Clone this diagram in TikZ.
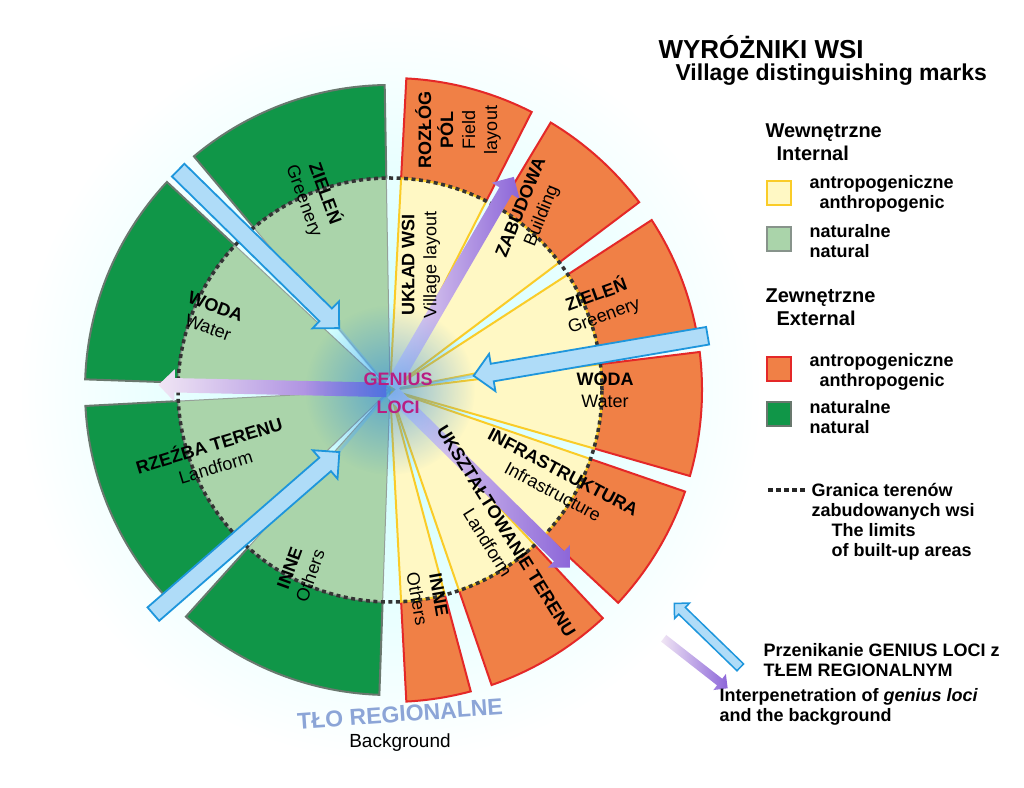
\documentclass[tikz,border=0pt]{standalone}
\usepackage{fontspec}
\setmainfont{Liberation Sans}
\usetikzlibrary{calc,shapes.arrows,fadings}

\definecolor{antout}{RGB}{240,128,70}
\definecolor{antin}{RGB}{255,248,196}
\definecolor{natout}{RGB}{16,150,72}
\definecolor{natin}{RGB}{170,212,170}
\definecolor{redline}{RGB}{228,40,40}
\definecolor{yelline}{RGB}{250,204,40}
\definecolor{grayline}{RGB}{105,120,110}
\definecolor{arrowblue}{RGB}{30,150,220}
\definecolor{arrowfill}{RGB}{175,220,248}
\definecolor{lociviolet}{RGB}{185,30,130}
\definecolor{tlo}{RGB}{140,165,215}

\tikzfading[name=glow, inner color=transparent!45, outer color=transparent!100]

\tikzset{
  ringout/.style={fill=antout, draw=redline, line width=2pt},
  wedgein/.style={fill=antin, draw=yelline, line width=2pt},
  ringnat/.style={fill=natout, draw=grayline, line width=2pt},
  wedgenat/.style={fill=natin, draw=grayline!70, line width=1pt},
  lbl/.style={align=center, font=\fontsize{18}{22}\selectfont},
  legend/.style={anchor=west, align=left, font=\bfseries\fontsize{18}{20}\selectfont},
  inarrow/.style={single arrow, draw=arrowblue, fill=arrowfill, line width=1.8pt,
    inner sep=8pt, single arrow head extend=10pt},
  outarrow/.style={single arrow, shade, left color=blue!15!violet!10, right color=blue!50!violet!60,
    draw=none, inner sep=7pt, single arrow head extend=9pt},
}

% annular sector: start, end, inner radius, outer radius, style
\newcommand\sectorring[5]{\draw[#5] ($(c)+(#1:#3)$) arc[start angle=#1, end angle=#2, radius=#3]
  -- ($(c)+(#2:#4)$) arc[start angle=#2, end angle=#1, radius=#4] -- cycle;}
% wedge from centre: start, end, radius, style
\newcommand\sectorwedge[4]{\draw[#4] (c) -- ($(c)+(#1:#3)$) arc[start angle=#1, end angle=#2, radius=#3] -- cycle;}
% block arrow between two named coordinates
\newcommand\blockarrow[3]{\path let \p1=(#1), \p2=(#2), \n1={atan2(\y2-\y1,\x2-\x1)},
  \n2={veclen(\x2-\x1,\y2-\y1)} in ($(#1)!0.5!(#2)$) node[#3, rotate=\n1, minimum height=\n2] {};}

\begin{document}
\begin{tikzpicture}[x=1pt, y=1pt]
  \useasboundingbox (0,0) rectangle (1024,787);
  \coordinate (c) at (390,397);

  % regional background
  \shade[inner color=cyan!22, outer color=white] (c) circle (372);

  % outer sectors
  \foreach \a/\b in {63/87, 37/59, 11/33, -16/7, -43/-19, -71/-47, -87/-75}
    \sectorring{\a}{\b}{212}{312}{ringout};
  \foreach \a/\b in {91/130, 137/178, 183/224, 228/268}
    \sectorring{\a}{\b}{212}{305}{ringnat};

  % inner wedges
  \foreach \a/\b in {63/87, 37/59, 11/33, -16/7, -43/-19, -71/-47, -87/-75}
    \sectorwedge{\a}{\b}{212}{wedgein};
  \foreach \a/\b in {91/130, 137/178, 183/224, 228/268}
    \sectorwedge{\a}{\b}{212}{wedgenat};

  % limits of built-up areas
  \draw[line width=3.5pt, dash pattern=on 4pt off 3.5pt, black!80] (c) circle (212);

  % arrows
  \coordinate (t1) at (175,620);  \coordinate (h1) at (336,462);
  \coordinate (t2) at (150,170);  \coordinate (h2) at (336,332);
  \coordinate (t3) at (712,452);  \coordinate (h3) at (478,412);
  \coordinate (h4) at (162,402);
  \coordinate (h5) at (512,607);
  \coordinate (h6) at (568,222);
  \foreach \h in {h1,h2,h3}
    \draw[arrowblue!60, line width=3pt, opacity=.5] (c) -- (\h);
  \blockarrow{t1}{h1}{inarrow}
  \blockarrow{t2}{h2}{inarrow}
  \blockarrow{t3}{h3}{inarrow}
  \blockarrow{c}{h4}{outarrow}
  \blockarrow{c}{h5}{outarrow}
  \blockarrow{c}{h6}{outarrow}

  % genius loci glow
  \fill[blue!50!cyan!80!gray, path fading=glow] (c) circle (85);
  \node[font=\bfseries\fontsize{18}{20}\selectfont, text=lociviolet, align=center] (loci) at (398,394) {GENIUS\\[8pt]LOCI};

  % sector labels, natural
  \node[lbl, rotate=-70] (zielenL) at (315,590) {\textbf{ZIELEŃ}\\Greenery};
  \node[lbl, rotate=-20] (wodaL) at (212,470) {\textbf{WODA}\\Water};
  \node[lbl, rotate=17] (rzezba) at (212,332) {\textbf{RZEŹBA TERENU}\\Landform};
  \node[lbl, rotate=70] (inneL) at (300,215) {\textbf{INNE}\\Others};
  % sector labels, anthropogenic
  \node[lbl, rotate=90] (rozlog) at (458,657) {\textbf{ROZŁÓG}\\\textbf{PÓL}\\Field\\layout};
  \node[lbl, rotate=90] (uklad) at (421,522) {\textbf{UKŁAD WSI}\\Village layout};
  \node[lbl, rotate=68] (zabudowa) at (532,575) {\textbf{ZABUDOWA}\\Building};
  \node[lbl, rotate=20] (zielenR) at (600,482) {\textbf{ZIELEŃ}\\Greenery};
  \node[lbl] (wodaR) at (605,397) {\textbf{WODA}\\Water};
  \node[lbl, rotate=-28] (infra) at (558,305) {\textbf{INFRASTRUKTURA}\\Infrastructure};
  \node[lbl, rotate=-58] (uksztalt) at (497,250) {\textbf{UKSZTAŁTOWANIE TERENU}\\Landform};
  \node[lbl, rotate=-80] (inneR) at (428,190) {\textbf{INNE}\\Others};

  % regional background label
  \node[font=\bfseries\fontsize{23}{25}\selectfont, text=tlo, rotate=4] (tlolbl) at (400,73) {TŁO REGIONALNE};
  \node[font=\fontsize{19}{21}\selectfont] (bglbl) at (400,44) {Background};

  % legend
  \node[legend, font=\bfseries\fontsize{26}{28}\selectfont] (title) at (655,740) {WYRÓŻNIKI WSI};
  \node[legend, font=\bfseries\fontsize{23}{25}\selectfont] (subtitle) at (672,712) {Village distinguishing marks};
  \node[legend, font=\bfseries\fontsize{20}{23}\selectfont] (internal) at (762,645) {Wewnętrzne\\\ \ Internal};
  \draw[fill=antin, draw=yelline, line width=2.5pt] (767,582) rectangle (791,606);
  \node[legend] (l1) at (806,593) {antropogeniczne\\\ \ anthropogenic};
  \draw[fill=natin, draw=grayline!80, line width=2.5pt] (767,536) rectangle (791,560);
  \node[legend] (l2) at (806,546) {naturalne\\natural};
  \node[legend, font=\bfseries\fontsize{20}{23}\selectfont] (external) at (762,480) {Zewnętrzne\\\ \ External};
  \draw[fill=antout, draw=redline, line width=2.5pt] (767,406) rectangle (791,430);
  \node[legend] (l3) at (806,415) {antropogeniczne\\\ \ anthropogenic};
  \draw[fill=natout, draw=grayline, line width=2.5pt] (767,361) rectangle (791,385);
  \node[legend] (l4) at (806,370) {naturalne\\natural};
  \draw[line width=4pt, dash pattern=on 4.5pt off 3.5pt, black!85] (768,297) -- (805,297);
  \node[legend] (l5) at (808,265) {Granica terenów\\zabudowanych wsi\\\ \ \ \ The limits\\\ \ \ \ of built-up areas};
  \coordinate (lt1) at (742,118); \coordinate (lh1) at (676,182);
  \coordinate (lt2) at (662,150); \coordinate (lh2) at (726,100);
  \blockarrow{lt1}{lh1}{inarrow, inner sep=4pt, single arrow head extend=6pt, line width=1.5pt}
  \blockarrow{lt2}{lh2}{outarrow, inner sep=4pt, single arrow head extend=6pt}
  \node[legend] (l6) at (760,127) {Przenikanie GENIUS LOCI z\\TŁEM REGIONALNYM};
  \node[legend] (l7) at (716,80) {Interpenetration of \textit{genius loci}\\and the background};
\end{tikzpicture}
\end{document}
